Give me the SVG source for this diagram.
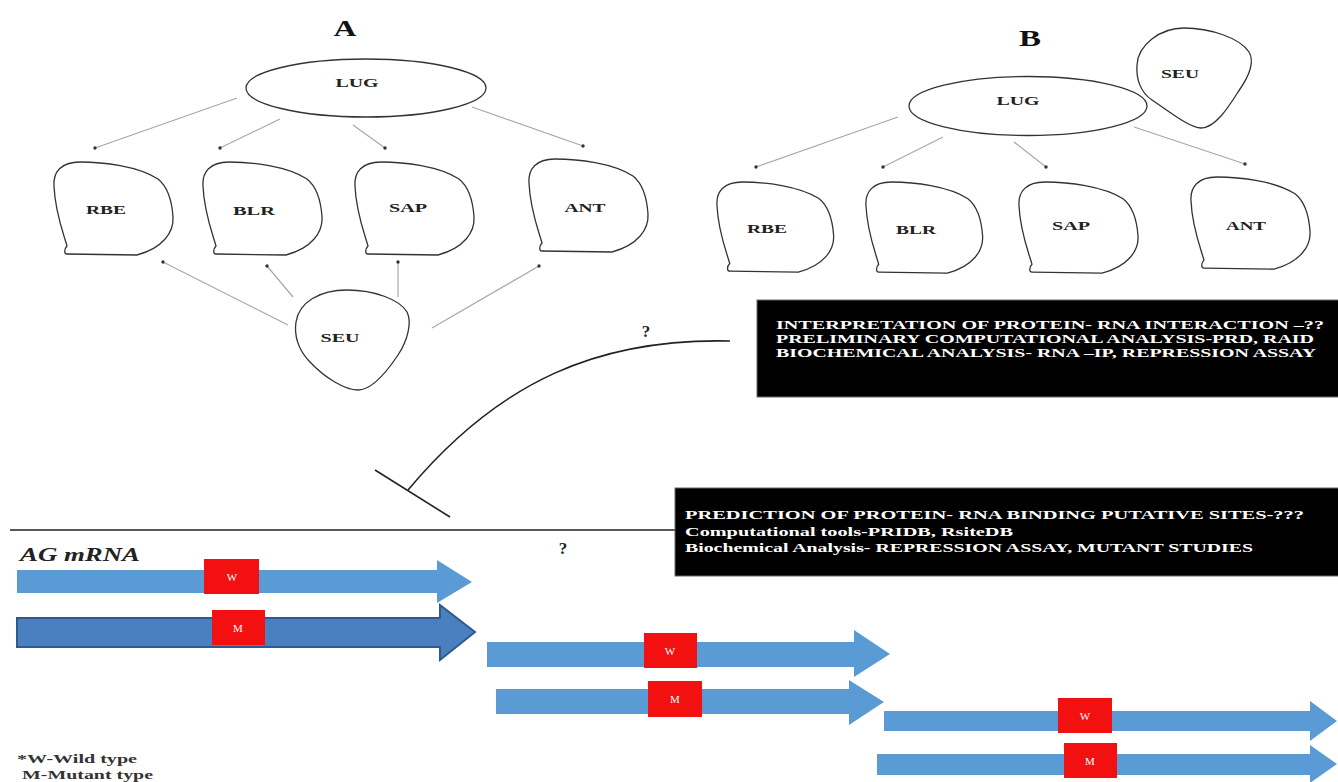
<svg xmlns="http://www.w3.org/2000/svg" xmlns:xlink="http://www.w3.org/1999/xlink" width="1338" height="782" viewBox="0 0 1338 782">
<style>
.bg{fill:#fff}
.node{fill:#fff;stroke:#333;stroke-width:1.3}
.lbl{font-family:"Liberation Serif","Times New Roman",serif;font-weight:bold;font-size:13px;fill:#222;text-anchor:middle}
.title{font-family:"Liberation Serif","Times New Roman",serif;font-weight:bold;font-size:23px;fill:#111;text-anchor:middle}
.conn{stroke:#a8a8a8;stroke-width:1.2;fill:none;marker-end:url(#dot)}
.inh{stroke:#222;stroke-width:1.6;fill:none}
.box{fill:#000;stroke:#666;stroke-width:1}
.boxt{font-family:"Liberation Serif","Times New Roman",serif;font-weight:bold;font-size:12.5px;fill:#fff}
.arr{fill:#5B9BD5}
.arr2{fill:#4A7FC0;stroke:#2F5A8F;stroke-width:2}
.red{fill:#F21010}
.rt{font-family:"Liberation Serif","Times New Roman",serif;font-size:11px;fill:#fff;text-anchor:middle}
.q{font-family:"Liberation Serif","Times New Roman",serif;font-weight:bold;font-size:17px;fill:#222;text-anchor:middle}
.leg{font-family:"Liberation Serif","Times New Roman",serif;font-weight:bold;font-size:12px;fill:#333}
</style>
<defs>
<marker id="dot" viewBox="0 0 4 4" refX="2" refY="2" markerWidth="4" markerHeight="4" markerUnits="userSpaceOnUse">
<circle cx="2" cy="2" r="1.7" fill="#333"/>
</marker>
<path id="blob" d="M1,24 C0,10 8,0 27,0 C50,0 85,4 105,17 C115,25 119,40 120,55 C121,70 110,86 84,93 L14,92 C11,92 11,87 14,84 C10,70 2,50 1,24 Z"/>
</defs>
<rect class="bg" x="0" y="0" width="1338" height="782"/>

<!-- Panel titles -->
<text class="title" x="345" y="36" textLength="23" lengthAdjust="spacingAndGlyphs">A</text>
<text class="title" x="1030" y="46" textLength="22" lengthAdjust="spacingAndGlyphs">B</text>

<g id="connectors">
<path class="conn" d="M237,98 L95,148"/>
<path class="conn" d="M280,119 L220,148"/>
<path class="conn" d="M353,125 L385,148"/>
<path class="conn" d="M472,107 L583,146"/>
<path class="conn" d="M288,325 L163,262"/>
<path class="conn" d="M293,297 L267,266"/>
<path class="conn" d="M398,297 L398,262"/>
<path class="conn" d="M432,328 L539,266"/>
<path class="conn" d="M898,117 L756,167"/>
<path class="conn" d="M943,137 L883,167"/>
<path class="conn" d="M1014,142 L1046,167"/>
<path class="conn" d="M1134,127 L1245,164"/>
<path id="inhibit" class="inh" d="M730,341 C600,338 500,380 408,490"/>
<path class="inh" d="M375,470 L450,517"/>
<path class="inh" stroke-width="2" d="M10,530 L675,530"/>
</g>

<!-- Panel A -->
<g id="A-LUG">
<ellipse class="node" cx="366" cy="88" rx="120" ry="29"/>
<text class="lbl" x="357" y="87" textLength="43" lengthAdjust="spacingAndGlyphs">LUG</text>
</g>
<g id="A-RBE">
<use href="#blob" class="node" transform="translate(53,162)"/>
<text class="lbl" x="106" y="214" textLength="40" lengthAdjust="spacingAndGlyphs">RBE</text>
</g>
<g id="A-BLR">
<use href="#blob" class="node" transform="translate(202,162)"/>
<text class="lbl" x="254" y="215" textLength="42" lengthAdjust="spacingAndGlyphs">BLR</text>
</g>
<g id="A-SAP">
<use href="#blob" class="node" transform="translate(354,162)"/>
<text class="lbl" x="408" y="212" textLength="38" lengthAdjust="spacingAndGlyphs">SAP</text>
</g>
<g id="A-ANT">
<use href="#blob" class="node" transform="translate(528,159)"/>
<text class="lbl" x="585" y="212" textLength="41" lengthAdjust="spacingAndGlyphs">ANT</text>
</g>
<g id="A-SEU">
<path class="node" d="M347,290 C375,290 400,300 407,312 C412,322 408,340 398,355 C388,370 372,390 358,390 C345,390 325,378 310,362 C298,350 294,335 296,322 C299,302 320,290 347,290 Z"/>
<text class="lbl" x="340" y="342" textLength="39" lengthAdjust="spacingAndGlyphs">SEU</text>
</g>

<!-- Panel B -->
<g id="B-LUG">
<ellipse class="node" cx="1028" cy="106" rx="119" ry="29.5"/>
<text class="lbl" x="1018" y="105" textLength="43" lengthAdjust="spacingAndGlyphs">LUG</text>
</g>
<g id="B-SEU">
<path class="node" fill="none" style="fill:none" d="M1184,28 C1210,28 1240,38 1249,52 C1255,62 1248,78 1238,92 C1228,108 1215,128 1201,128 C1190,128 1170,112 1152,100 C1140,92 1136,78 1137,65 C1138,45 1160,28 1184,28 Z"/>
<text class="lbl" x="1180" y="78" textLength="38" lengthAdjust="spacingAndGlyphs">SEU</text>
</g>
<g id="B-RBE">
<use href="#blob" class="node" transform="translate(716,182) scale(0.98,0.97)"/>
<text class="lbl" x="767" y="233" textLength="40" lengthAdjust="spacingAndGlyphs">RBE</text>
</g>
<g id="B-BLR">
<use href="#blob" class="node" transform="translate(865,182) scale(0.98,0.98)"/>
<text class="lbl" x="916" y="234" textLength="40" lengthAdjust="spacingAndGlyphs">BLR</text>
</g>
<g id="B-SAP">
<use href="#blob" class="node" transform="translate(1018,182) scale(1,0.98)"/>
<text class="lbl" x="1071" y="230" textLength="38" lengthAdjust="spacingAndGlyphs">SAP</text>
</g>
<g id="B-ANT">
<use href="#blob" class="node" transform="translate(1190,177) scale(1,0.99)"/>
<text class="lbl" x="1246" y="230" textLength="40" lengthAdjust="spacingAndGlyphs">ANT</text>
</g>

<!-- Question marks -->
<text class="q" x="646" y="337">?</text>
<text class="q" x="563" y="554">?</text>

<!-- Black info boxes -->
<g id="box-interpretation">
<rect class="box" x="757" y="300" width="585" height="97"/>
<text class="boxt" x="776" y="329" textLength="548" lengthAdjust="spacingAndGlyphs">INTERPRETATION  OF PROTEIN- RNA INTERACTION –??</text>
<text class="boxt" x="776" y="343" textLength="538" lengthAdjust="spacingAndGlyphs">PRELIMINARY COMPUTATIONAL ANALYSIS-PRD, RAID</text>
<text class="boxt" x="776" y="357" textLength="540" lengthAdjust="spacingAndGlyphs">BIOCHEMICAL ANALYSIS- RNA –IP, REPRESSION ASSAY</text>
</g>
<g id="box-prediction">
<rect class="box" x="675" y="488" width="667" height="88"/>
<text class="boxt" x="685" y="519" textLength="619" lengthAdjust="spacingAndGlyphs">PREDICTION  OF PROTEIN- RNA BINDING PUTATIVE SITES-???</text>
<text class="boxt" x="685" y="536" textLength="328" lengthAdjust="spacingAndGlyphs">Computational tools-PRIDB, RsiteDB</text>
<text class="boxt" x="685" y="552" textLength="568" lengthAdjust="spacingAndGlyphs">Biochemical Analysis- REPRESSION ASSAY, MUTANT STUDIES</text>
</g>

<!-- AG mRNA -->
<text x="20" y="561" font-family="'Liberation Serif','Times New Roman',serif" font-weight="bold" font-style="italic" font-size="19" fill="#222" textLength="120" lengthAdjust="spacingAndGlyphs">AG mRNA</text>

<g id="arrow-1">
<polygon class="arr" points="17,570 437,570 437,560 472,582 437,603 437,593 17,593"/>
<rect class="red" x="204" y="559" width="55" height="35"/>
<text class="rt" x="232" y="581">W</text>
</g>
<g id="arrow-2">
<polygon class="arr2" points="17,618 440,618 440,605 475,632 440,660 440,647 17,647"/>
<rect class="red" x="212" y="610" width="53" height="35"/>
<text class="rt" x="238" y="632">M</text>
</g>
<g id="arrow-3">
<polygon class="arr" points="487,642 854,642 854,630 890,654 854,677 854,667 487,667"/>
<rect class="red" x="644" y="633" width="53" height="35"/>
<text class="rt" x="670" y="655">W</text>
</g>
<g id="arrow-4">
<polygon class="arr" points="496,689 849,689 849,680 884,702 849,725 849,714 496,714"/>
<rect class="red" x="648" y="681" width="54" height="36"/>
<text class="rt" x="675" y="703">M</text>
</g>
<g id="arrow-5">
<polygon class="arr" points="884,711 1310,711 1310,701 1337,721 1310,741 1310,731 884,731"/>
<rect class="red" x="1058" y="698" width="54" height="35"/>
<text class="rt" x="1085" y="720">W</text>
</g>
<g id="arrow-6">
<polygon class="arr" points="877,754 1310,754 1310,745 1337,764 1310,783 1310,775 877,775"/>
<rect class="red" x="1064" y="743" width="53" height="35"/>
<text class="rt" x="1090" y="765">M</text>
</g>

<!-- Legend -->
<text class="leg" x="17" y="763" textLength="120" lengthAdjust="spacingAndGlyphs">*W-Wild type</text>
<text class="leg" x="22" y="779" textLength="131" lengthAdjust="spacingAndGlyphs">M-Mutant type</text>
</svg>
